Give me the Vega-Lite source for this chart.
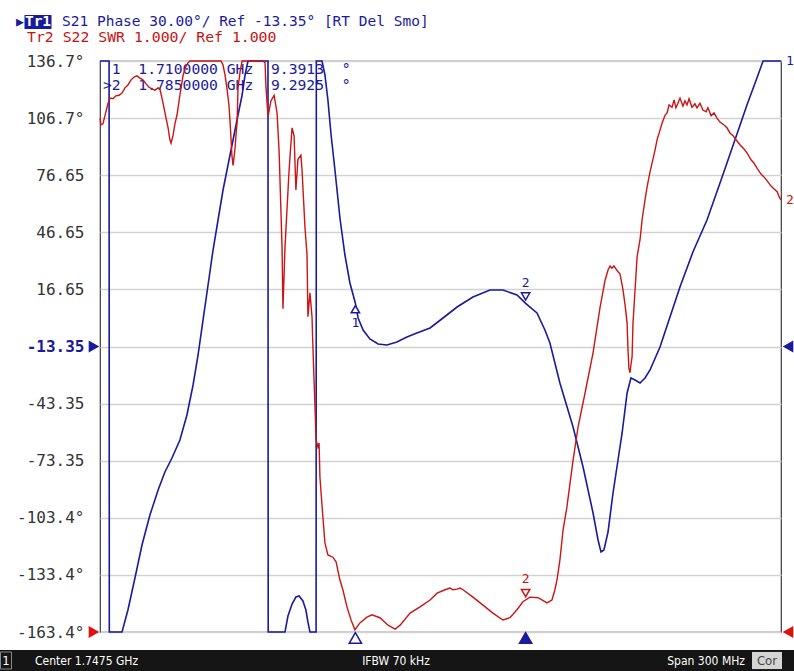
{
  "$schema": "https://vega.github.io/schema/vega-lite/v6.json",
  "width": 681,
  "height": 571,
  "autosize": {"type": "none"},
  "padding": {"left": 100, "top": 61, "right": 13, "bottom": 39},
  "background": "white",
  "config": {"view": {"stroke": "#3a3a3a", "strokeWidth": 1.2}, "font": "DejaVu Sans Mono"},
  "datasets": {
    "phase": [
      {"f":1597.5,"phase":168},{"f":1601.5,"phase":179.5},{"f":1601.6,"phase":-179.5},{"f":1604.1,"phase":-171},{"f":1607.2,"phase":-163.4},
      {"f":1609.8,"phase":-151.79},{"f":1612.9,"phase":-134.98},{"f":1616.0,"phase":-117.64},{"f":1619.5,"phase":-101.88},{"f":1623.1,"phase":-88.74},
      {"f":1626.1,"phase":-79.29},{"f":1629.2,"phase":-71.93},{"f":1632.7,"phase":-62.47},{"f":1635.8,"phase":-49.34},{"f":1638.5,"phase":-33.58},
      {"f":1640.7,"phase":-17.81},{"f":1642.9,"phase":0.58},{"f":1645.1,"phase":18.96},{"f":1647.3,"phase":37.35},{"f":1649.5,"phase":53.11},
      {"f":1651.7,"phase":68.87},{"f":1653.9,"phase":82.01},{"f":1656.1,"phase":95.14},{"f":1658.3,"phase":108.28},{"f":1660.1,"phase":118.79},
      {"f":1661.4,"phase":129.3},{"f":1662.7,"phase":136.65},{"f":1667.1,"phase":158},{"f":1671.5,"phase":179.5},{"f":1671.6,"phase":-179.5},
      {"f":1675.0,"phase":-172},{"f":1679.0,"phase":-163.4},{"f":1680.3,"phase":-154.94},{"f":1682.1,"phase":-148.64},{"f":1683.8,"phase":-144.96},
      {"f":1685.2,"phase":-144.43},{"f":1686.9,"phase":-147.06},{"f":1688.2,"phase":-151.79},{"f":1689.1,"phase":-158.09},{"f":1690.0,"phase":-163.4},
      {"f":1691.3,"phase":-172},{"f":1692.7,"phase":-179.5},{"f":1692.8,"phase":179.5},{"f":1694.0,"phase":160},{"f":1695.3,"phase":137},
      {"f":1696.6,"phase":129.3},{"f":1697.9,"phase":116.16},{"f":1699.3,"phase":97.77},{"f":1701.0,"phase":79.38},{"f":1703.2,"phase":54.16},
      {"f":1705.4,"phase":34.72},{"f":1707.6,"phase":20.01},{"f":1710.0,"phase":9.3913},{"f":1711.2,"phase":1.62},{"f":1713.4,"phase":-4.68},
      {"f":1716.4,"phase":-9.41},{"f":1720.0,"phase":-12.04},{"f":1723.9,"phase":-12.56},{"f":1728.3,"phase":-10.98},{"f":1732.7,"phase":-8.36},
      {"f":1737.1,"phase":-6.25},{"f":1742.9,"phase":-3.63},{"f":1748.6,"phase":1.62},{"f":1754.8,"phase":7.4},{"f":1761.8,"phase":12.66},
      {"f":1769.3,"phase":16.34},{"f":1775.0,"phase":16.34},{"f":1781.2,"phase":13.71},{"f":1785.0,"phase":9.2925},{"f":1790.0,"phase":4.25},
      {"f":1793.5,"phase":-4.68},{"f":1795.7,"phase":-11.51},{"f":1800.1,"phase":-32.52},{"f":1805.9,"phase":-55.64},{"f":1810.3,"phase":-76.66},
      {"f":1814.7,"phase":-100.83},{"f":1816.9,"phase":-115.02},{"f":1818.2,"phase":-121.32},{"f":1819.5,"phase":-120.27},{"f":1821.3,"phase":-110.81},
      {"f":1823.5,"phase":-90.32},{"f":1825.7,"phase":-72.98},{"f":1827.5,"phase":-58.79},{"f":1829.7,"phase":-37.78},{"f":1831.4,"phase":-29.9},
      {"f":1833.2,"phase":-30.95},{"f":1835.4,"phase":-32.52},{"f":1837.6,"phase":-29.9},{"f":1839.8,"phase":-25.69},{"f":1844.2,"phase":-13.61},
      {"f":1848.6,"phase":2.15},{"f":1853.0,"phase":17.91},{"f":1858.7,"phase":36.3},{"f":1864.9,"phase":53.11},{"f":1871.1,"phase":74.13},
      {"f":1877.2,"phase":95.14},{"f":1882.5,"phase":113.53},{"f":1886.9,"phase":127.72},{"f":1889.6,"phase":136.65},{"f":1893.5,"phase":142},
      {"f":1897.5,"phase":147}
    ],
    "swr": [
      {"f":1597.5,"swr":10.0},{"f":1597.9,"swr":9.88},{"f":1598.8,"swr":9.9},{"f":1600.1,"swr":10.11},{"f":1601.0,"swr":10.25},
      {"f":1601.9,"swr":10.35},{"f":1603.2,"swr":10.34},{"f":1604.5,"swr":10.39},{"f":1605.9,"swr":10.4},{"f":1607.2,"swr":10.44},
      {"f":1608.5,"swr":10.53},{"f":1609.8,"swr":10.58},{"f":1611.2,"swr":10.67},{"f":1612.5,"swr":10.72},{"f":1613.8,"swr":10.74},
      {"f":1615.1,"swr":10.7},{"f":1616.4,"swr":10.67},{"f":1617.8,"swr":10.6},{"f":1619.1,"swr":10.54},{"f":1620.4,"swr":10.51},
      {"f":1621.7,"swr":10.49},{"f":1623.1,"swr":10.53},{"f":1623.9,"swr":10.51},{"f":1624.8,"swr":10.35},{"f":1625.7,"swr":10.18},
      {"f":1626.6,"swr":10.0},{"f":1627.5,"swr":9.83},{"f":1628.3,"swr":9.62},{"f":1628.8,"swr":9.56},{"f":1629.7,"swr":9.7},
      {"f":1630.5,"swr":9.9},{"f":1631.4,"swr":10.05},{"f":1632.7,"swr":10.4},{"f":1634.1,"swr":10.75},{"f":1635.4,"swr":10.91},
      {"f":1636.3,"swr":10.97},{"f":1637.1,"swr":11.05},{"f":1639.4,"swr":11.6},{"f":1643.8,"swr":12.3},{"f":1648.2,"swr":11.8},
      {"f":1650.8,"swr":11.1},{"f":1651.7,"swr":10.93},{"f":1652.6,"swr":10.75},{"f":1653.4,"swr":10.53},{"f":1654.3,"swr":10.23},
      {"f":1654.8,"swr":9.93},{"f":1655.2,"swr":9.65},{"f":1655.6,"swr":9.35},{"f":1656.1,"swr":9.17},{"f":1656.5,"swr":9.3},
      {"f":1657.0,"swr":9.48},{"f":1657.4,"swr":9.7},{"f":1657.9,"swr":9.93},{"f":1658.3,"swr":10.53},{"f":1659.2,"swr":10.81},
      {"f":1660.1,"swr":11.0},{"f":1662.7,"swr":11.5},{"f":1666.2,"swr":12.0},{"f":1669.3,"swr":11.3},{"f":1670.2,"swr":10.97},
      {"f":1670.6,"swr":10.56},{"f":1671.5,"swr":10.02},{"f":1672.8,"swr":10.3},{"f":1674.2,"swr":10.4},{"f":1675.5,"swr":10.09},
      {"f":1676.4,"swr":9.42},{"f":1677.7,"swr":7.74},{"f":1678.1,"swr":6.66},{"f":1679.0,"swr":7.74},{"f":1680.8,"swr":9.09},
      {"f":1682.1,"swr":9.83},{"f":1683.0,"swr":9.69},{"f":1683.8,"swr":8.74},{"f":1684.7,"swr":9.28},{"f":1686.0,"swr":9.35},
      {"f":1686.5,"swr":9.09},{"f":1687.8,"swr":8.08},{"f":1688.7,"swr":7.61},{"f":1689.1,"swr":6.52},{"f":1690.0,"swr":6.94},
      {"f":1690.9,"swr":6.52},{"f":1691.3,"swr":5.99},{"f":1692.7,"swr":4.36},{"f":1693.5,"swr":4.24},{"f":1694.0,"swr":4.31},
      {"f":1694.4,"swr":3.7},{"f":1695.7,"swr":3.01},{"f":1696.6,"swr":2.56},{"f":1697.9,"swr":2.35},{"f":1700.1,"swr":2.31},
      {"f":1701.5,"swr":2.23},{"f":1703.2,"swr":1.91},{"f":1704.5,"swr":1.74},{"f":1706.3,"swr":1.44},{"f":1708.1,"swr":1.21},
      {"f":1709.8,"swr":1.04},{"f":1712.0,"swr":1.16},{"f":1715.1,"swr":1.26},{"f":1717.3,"swr":1.3},{"f":1720.8,"swr":1.25},
      {"f":1724.4,"swr":1.12},{"f":1727.5,"swr":1.05},{"f":1729.7,"swr":1.12},{"f":1734.1,"swr":1.33},{"f":1738.5,"swr":1.44},
      {"f":1742.9,"swr":1.56},{"f":1746.0,"swr":1.68},{"f":1749.5,"swr":1.74},{"f":1751.7,"swr":1.77},{"f":1753.0,"swr":1.74},
      {"f":1754.8,"swr":1.75},{"f":1756.1,"swr":1.77},{"f":1757.4,"swr":1.74},{"f":1761.8,"swr":1.61},{"f":1766.2,"swr":1.47},
      {"f":1770.6,"swr":1.33},{"f":1775.0,"swr":1.21},{"f":1778.1,"swr":1.25},{"f":1781.2,"swr":1.39},{"f":1783.8,"swr":1.53},
      {"f":1786.9,"swr":1.61},{"f":1790.5,"swr":1.6},{"f":1794.4,"swr":1.51},{"f":1796.6,"swr":1.56},{"f":1797.9,"swr":1.74},
      {"f":1798.8,"swr":1.91},{"f":1800.1,"swr":2.26},{"f":1801.5,"swr":2.79},{"f":1803.2,"swr":3.19},{"f":1805.9,"swr":4.01},
      {"f":1808.1,"swr":4.59},{"f":1811.2,"swr":5.19},{"f":1814.7,"swr":5.89},{"f":1817.8,"swr":6.69},{"f":1820.0,"swr":7.16},
      {"f":1821.3,"swr":7.34},{"f":1822.2,"swr":7.41},{"f":1823.0,"swr":7.37},{"f":1823.9,"swr":7.41},{"f":1824.8,"swr":7.36},
      {"f":1825.7,"swr":7.31},{"f":1826.6,"swr":7.27},{"f":1827.9,"swr":6.99},{"f":1828.8,"swr":6.73},{"f":1829.7,"swr":6.41},
      {"f":1830.1,"swr":5.94},{"f":1830.5,"swr":5.62},{"f":1831.0,"swr":5.54},{"f":1831.4,"swr":5.68},{"f":1831.9,"swr":5.82},
      {"f":1832.3,"swr":6.41},{"f":1833.2,"swr":6.99},{"f":1834.1,"swr":7.57},{"f":1835.4,"swr":7.87},{"f":1836.3,"swr":8.22},
      {"f":1837.6,"swr":8.57},{"f":1838.5,"swr":8.79},{"f":1839.8,"swr":9.06},{"f":1840.7,"swr":9.21},{"f":1842.0,"swr":9.44},
      {"f":1842.9,"swr":9.62},{"f":1844.2,"swr":9.79},{"f":1845.1,"swr":9.91},{"f":1846.4,"swr":10.05},{"f":1847.3,"swr":10.09},
      {"f":1848.2,"swr":10.23},{"f":1849.5,"swr":10.19},{"f":1850.4,"swr":10.32},{"f":1851.2,"swr":10.18},{"f":1852.1,"swr":10.26},
      {"f":1853.0,"swr":10.35},{"f":1854.3,"swr":10.21},{"f":1855.2,"swr":10.3},{"f":1856.1,"swr":10.23},{"f":1857.0,"swr":10.34},
      {"f":1858.3,"swr":10.19},{"f":1859.6,"swr":10.25},{"f":1860.5,"swr":10.18},{"f":1861.8,"swr":10.26},{"f":1863.1,"swr":10.14},
      {"f":1864.5,"swr":10.11},{"f":1865.3,"swr":10.18},{"f":1866.7,"swr":10.04},{"f":1868.0,"swr":10.09},{"f":1869.3,"swr":10.0},
      {"f":1870.6,"swr":9.93},{"f":1872.4,"swr":9.88},{"f":1873.7,"swr":9.83},{"f":1875.0,"swr":9.74},{"f":1876.4,"swr":9.69},
      {"f":1877.7,"swr":9.62},{"f":1879.5,"swr":9.53},{"f":1881.2,"swr":9.46},{"f":1882.5,"swr":9.39},{"f":1884.3,"swr":9.27},
      {"f":1885.6,"swr":9.21},{"f":1887.0,"swr":9.12},{"f":1888.7,"swr":9.02},{"f":1890.0,"swr":8.97},{"f":1891.4,"swr":8.9},
      {"f":1893.1,"swr":8.81},{"f":1894.5,"swr":8.76},{"f":1895.8,"swr":8.71},{"f":1896.7,"swr":8.62},{"f":1897.5,"swr":8.57}
    ],
    "markers": [
      {"m":"1","f":1710,"phase":9.3913,"swr":1.04},
      {"m":"2","f":1785,"phase":9.2925,"swr":1.56}
    ],
    "refs": [
      {"trace":"Tr1","ref":-13.35},
      {"trace":"Tr2","ref":1.0}
    ],
    "status": [
      {"k":"ch","t":"1"},
      {"k":"center","t":"Center 1.7475 GHz"},
      {"k":"ifbw","t":"IFBW 70 kHz"},
      {"k":"span","t":"Span 300 MHz"},
      {"k":"cor","t":"Cor"},
      {"k":"tr","t":"Tr1"},
      {"k":"arrow","t":"▶"},
      {"k":"h1","t":"S21 Phase 30.00°/ Ref -13.35° [RT Del Smo]"},
      {"k":"h2","t":"Tr2 S22 SWR 1.000/ Ref 1.000"}
    ]
  },
  "layer": [
    {
      "layer": [
        {
          "data": {"name": "phase"},
          "mark": {"type": "line", "color": "#1a1a9e", "strokeWidth": 1.6},
          "encoding": {
            "x": {"field": "f", "type": "quantitative",
              "scale": {"domain": [1597.5, 1897.5], "nice": false, "zero": false},
              "axis": {"values": [1597.5,1627.5,1657.5,1687.5,1717.5,1747.5,1777.5,1807.5,1837.5,1867.5,1897.5],
                "grid": true, "gridColor": "#d2d2d2", "gridWidth": 1.5, "labels": false, "ticks": false,
                "domain": true, "domainColor": "#111111", "domainWidth": 2, "title": null}},
            "y": {"field": "phase", "type": "quantitative",
              "scale": {"domain": [-163.35, 136.65], "nice": false, "zero": false, "clamp": true},
              "axis": {"values": [-163.35,-133.35,-103.35,-73.35,-43.35,-13.35,16.65,46.65,76.65,106.65,136.65],
                "labelExpr": "(datum.value < 0 ? '-' : '') + (abs(datum.value) > 99.9 ? format(abs(datum.value) + 0.001, '.1f') + '°' : format(abs(datum.value) + 0.0001, '.2f'))",
                "grid": true, "gridColor": "#d2d2d2", "gridWidth": 1.5, "ticks": false, "tickSize": 0, "domain": false,
                "labelPadding": 16, "labelFont": "DejaVu Sans Mono", "labelFontSize": 16,
                "labelColor": {"condition": {"test": "abs(datum.value + 13.35) < 0.01", "value": "#1a1a9e"}, "value": "#333333"},
                "labelFontWeight": {"condition": {"test": "abs(datum.value + 13.35) < 0.01", "value": "bold"}, "value": "normal"},
                "labelOverlap": false, "labelBound": false, "labelFlush": false, "title": null}}
          }
        },
        {
          "data": {"name": "phase"},
          "transform": [{"filter": "datum.f == 1897.5"}],
          "mark": {"type": "text", "text": "1", "align": "left", "dx": 5, "fontSize": 13, "color": "#1a1a9e", "font": "DejaVu Sans Mono"},
          "encoding": {"x": {"field": "f", "type": "quantitative"}, "y": {"field": "phase", "type": "quantitative"}}
        },
        {
          "data": {"name": "markers"},
          "transform": [{"filter": "datum.m == '1'"}],
          "mark": {"type": "point", "shape": "triangle-up", "size": 70, "filled": true, "fill": "white", "stroke": "#1a1a9e", "strokeWidth": 1.5, "opacity": 1, "yOffset": 6},
          "encoding": {"x": {"field": "f", "type": "quantitative"}, "y": {"field": "phase", "type": "quantitative"}}
        },
        {
          "data": {"name": "markers"},
          "transform": [{"filter": "datum.m == '1'"}],
          "mark": {"type": "text", "dy": 20, "fontSize": 13, "color": "#1a1a9e", "font": "DejaVu Sans Mono"},
          "encoding": {"x": {"field": "f", "type": "quantitative"}, "y": {"field": "phase", "type": "quantitative"}, "text": {"field": "m"}}
        },
        {
          "data": {"name": "markers"},
          "transform": [{"filter": "datum.m == '2'"}],
          "mark": {"type": "point", "shape": "triangle-down", "size": 70, "filled": true, "fill": "white", "stroke": "#1a1a9e", "strokeWidth": 1.5, "opacity": 1, "yOffset": -7},
          "encoding": {"x": {"field": "f", "type": "quantitative"}, "y": {"field": "phase", "type": "quantitative"}}
        },
        {
          "data": {"name": "markers"},
          "transform": [{"filter": "datum.m == '2'"}],
          "mark": {"type": "text", "dy": -20, "fontSize": 13, "color": "#1a1a9e", "font": "DejaVu Sans Mono"},
          "encoding": {"x": {"field": "f", "type": "quantitative"}, "y": {"field": "phase", "type": "quantitative"}, "text": {"field": "m"}}
        },
        {
          "data": {"name": "markers"},
          "transform": [
            {"filter": "datum.m == '1'"},
            {"calculate": "datum.m + '\u00a0\u00a0' + format(datum.f / 1000, '.7f') + '\u00a0GHz\u00a0\u00a0' + format(datum.phase, '.4f') + '\u00a0\u00a0°'", "as": "label"}
          ],
          "mark": {"type": "text", "align": "left", "baseline": "middle", "dx": 8.85, "fontSize": 14.7, "color": "#1a1a9e", "font": "DejaVu Sans Mono"},
          "encoding": {"x": {"datum": 1598.8}, "y": {"datum": 131.92}, "text": {"field": "label"}}
        },
        {
          "data": {"name": "markers"},
          "transform": [
            {"filter": "datum.m == '2'"},
            {"calculate": "'>' + datum.m + '\u00a0\u00a0' + format(datum.f / 1000, '.7f') + '\u00a0GHz\u00a0\u00a0' + format(datum.phase, '.4f') + '\u00a0\u00a0°'", "as": "label"}
          ],
          "mark": {"type": "text", "align": "left", "baseline": "middle", "fontSize": 14.7, "color": "#1a1a9e", "font": "DejaVu Sans Mono"},
          "encoding": {"x": {"datum": 1598.8}, "y": {"datum": 123.52}, "text": {"field": "label"}}
        },
        {
          "data": {"name": "markers"},
          "mark": {"type": "point", "shape": "triangle-up", "size": 150, "filled": true, "stroke": "#1a1a9e", "strokeWidth": 1.5, "opacity": 1, "yOffset": 6},
          "encoding": {
            "x": {"field": "f", "type": "quantitative"},
            "y": {"datum": -163.35},
            "fill": {"condition": {"test": "datum.m == '2'", "value": "#1a1a9e"}, "value": "white"}
          }
        },
        {
          "data": {"name": "refs"},
          "transform": [{"filter": "datum.trace == 'Tr1'"}],
          "mark": {"type": "point", "shape": "triangle-right", "size": 150, "filled": true, "color": "#1a1a9e", "opacity": 1, "xOffset": -6},
          "encoding": {"x": {"datum": 1597.5}, "y": {"field": "ref", "type": "quantitative"}}
        },
        {
          "data": {"name": "refs"},
          "transform": [{"filter": "datum.trace == 'Tr1'"}],
          "mark": {"type": "point", "shape": "triangle-left", "size": 150, "filled": true, "color": "#1a1a9e", "opacity": 1, "xOffset": 7},
          "encoding": {"x": {"datum": 1897.5}, "y": {"field": "ref", "type": "quantitative"}}
        },
        {
          "data": {"name": "status"},
          "transform": [{"filter": "datum.k == 'center'"}],
          "mark": {"type": "rect", "color": "#151515", "xOffset": -100, "x2Offset": 13, "yOffset": 18, "y2Offset": 39},
          "encoding": {"x": {"datum": 1597.5}, "x2": {"datum": 1897.5}, "y": {"datum": -163.35}, "y2": {"datum": -163.35}}
        },
        {
          "data": {"name": "status"},
          "transform": [{"filter": "datum.k == 'ch'"}],
          "mark": {"type": "point", "shape": "M-1,-1.55H1V1.55H-1Z", "size": 121, "filled": false, "stroke": "#8a8a8a", "strokeWidth": 1, "opacity": 1, "xOffset": -94, "yOffset": 28.5},
          "encoding": {"x": {"datum": 1597.5}, "y": {"datum": -163.35}}
        },
        {
          "data": {"name": "status"},
          "transform": [{"filter": "datum.k == 'cor'"}],
          "mark": {"type": "point", "shape": "M-1,-0.57H1V0.57H-1Z", "size": 900, "filled": true, "color": "#d4d4d4", "opacity": 1, "xOffset": -14, "yOffset": 28.5},
          "encoding": {"x": {"datum": 1897.5}, "y": {"datum": -163.35}}
        },
        {
          "data": {"name": "status"},
          "transform": [{"filter": "datum.k == 'cor'"}],
          "mark": {"type": "text", "align": "center", "baseline": "middle", "dx": -14, "dy": 28.5, "fontSize": 13, "color": "#444444", "font": "Liberation Sans Narrow, DejaVu Sans Condensed, sans-serif"},
          "encoding": {"x": {"datum": 1897.5}, "y": {"datum": -163.35}, "text": {"field": "t"}}
        },
        {
          "data": {"name": "status"},
          "transform": [{"filter": "datum.k == 'ch'"}],
          "mark": {"type": "text", "align": "center", "baseline": "middle", "dx": -94, "dy": 28.5, "fontSize": 13, "color": "white", "font": "Liberation Sans Narrow, DejaVu Sans Condensed, sans-serif"},
          "encoding": {"x": {"datum": 1597.5}, "y": {"datum": -163.35}, "text": {"field": "t"}}
        },
        {
          "data": {"name": "status"},
          "transform": [{"filter": "datum.k == 'center'"}],
          "mark": {"type": "text", "align": "left", "baseline": "middle", "dx": -65, "dy": 28.5, "fontSize": 12, "color": "white", "font": "Liberation Sans Narrow, DejaVu Sans Condensed, sans-serif"},
          "encoding": {"x": {"datum": 1597.5}, "y": {"datum": -163.35}, "text": {"field": "t"}}
        },
        {
          "data": {"name": "status"},
          "transform": [{"filter": "datum.k == 'ifbw'"}],
          "mark": {"type": "text", "align": "center", "baseline": "middle", "dx": -44.5, "dy": 28.5, "fontSize": 12, "color": "white", "font": "Liberation Sans Narrow, DejaVu Sans Condensed, sans-serif"},
          "encoding": {"x": {"datum": 1747.5}, "y": {"datum": -163.35}, "text": {"field": "t"}}
        },
        {
          "data": {"name": "status"},
          "transform": [{"filter": "datum.k == 'span'"}],
          "mark": {"type": "text", "align": "right", "baseline": "middle", "dx": -36, "dy": 28.5, "fontSize": 12, "color": "white", "font": "Liberation Sans Narrow, DejaVu Sans Condensed, sans-serif"},
          "encoding": {"x": {"datum": 1897.5}, "y": {"datum": -163.35}, "text": {"field": "t"}}
        },
        {
          "data": {"name": "status"},
          "transform": [{"filter": "datum.k == 'arrow'"}],
          "mark": {"type": "text", "align": "left", "baseline": "middle", "dx": -84, "dy": -39, "fontSize": 13, "color": "#1a1a9e", "font": "DejaVu Sans Mono"},
          "encoding": {"x": {"datum": 1597.5}, "y": {"datum": 136.65}, "text": {"field": "t"}}
        },
        {
          "data": {"name": "status"},
          "transform": [{"filter": "datum.k == 'h1'"}],
          "mark": {"type": "text", "align": "left", "baseline": "middle", "dx": -38, "dy": -39, "fontSize": 14.5, "color": "#1a1a9e", "font": "DejaVu Sans Mono"},
          "encoding": {"x": {"datum": 1597.5}, "y": {"datum": 136.65}, "text": {"field": "t"}}
        },
        {
          "data": {"name": "status"},
          "transform": [{"filter": "datum.k == 'h2'"}],
          "mark": {"type": "text", "align": "left", "baseline": "middle", "dx": -73, "dy": -23, "fontSize": 14.8, "color": "#c81414", "font": "DejaVu Sans Mono"},
          "encoding": {"x": {"datum": 1597.5}, "y": {"datum": 136.65}, "text": {"field": "t"}}
        },
        {
          "data": {"name": "status"},
          "transform": [{"filter": "datum.k == 'tr'"}],
          "mark": {"type": "point", "shape": "M-1,-0.52H1V0.52H-1Z", "size": 729, "filled": true, "color": "#1a1a9e", "opacity": 1, "xOffset": -62, "yOffset": -39},
          "encoding": {"x": {"datum": 1597.5}, "y": {"datum": 136.65}}
        },
        {
          "data": {"name": "status"},
          "transform": [{"filter": "datum.k == 'tr'"}],
          "mark": {"type": "text", "align": "center", "baseline": "middle", "dx": -62, "dy": -39, "fontSize": 14.5, "fontWeight": "bold", "color": "white", "font": "DejaVu Sans Mono"},
          "encoding": {"x": {"datum": 1597.5}, "y": {"datum": 136.65}, "text": {"field": "t"}}
        }
      ]
    },
    {
      "layer": [
        {
          "data": {"name": "swr"},
          "mark": {"type": "line", "color": "#cc1414", "strokeWidth": 1.4},
          "encoding": {
            "x": {"field": "f", "type": "quantitative", "axis": null},
            "y": {"field": "swr", "type": "quantitative", "scale": {"domain": [1, 11], "nice": false, "zero": false, "clamp": true}, "axis": null}
          }
        },
        {
          "data": {"name": "swr"},
          "transform": [{"filter": "datum.f == 1897.5"}],
          "mark": {"type": "text", "text": "2", "align": "left", "dx": 5, "fontSize": 13, "color": "#cc1414", "font": "DejaVu Sans Mono"},
          "encoding": {"x": {"field": "f", "type": "quantitative", "axis": null}, "y": {"field": "swr", "type": "quantitative", "axis": null}}
        },
        {
          "data": {"name": "markers"},
          "transform": [{"filter": "datum.m == '2'"}],
          "mark": {"type": "point", "shape": "triangle-down", "size": 70, "filled": true, "fill": "white", "stroke": "#cc1414", "strokeWidth": 1.5, "opacity": 1, "yOffset": -7},
          "encoding": {"x": {"field": "f", "type": "quantitative", "axis": null}, "y": {"field": "swr", "type": "quantitative", "axis": null}}
        },
        {
          "data": {"name": "markers"},
          "transform": [{"filter": "datum.m == '2'"}],
          "mark": {"type": "text", "dy": -21, "fontSize": 13, "color": "#cc1414", "font": "DejaVu Sans Mono"},
          "encoding": {"x": {"field": "f", "type": "quantitative", "axis": null}, "y": {"field": "swr", "type": "quantitative", "axis": null}, "text": {"field": "m"}}
        },
        {
          "data": {"name": "refs"},
          "transform": [{"filter": "datum.trace == 'Tr2'"}],
          "mark": {"type": "point", "shape": "triangle-right", "size": 150, "filled": true, "color": "#e01010", "opacity": 1, "xOffset": -6},
          "encoding": {"x": {"datum": 1597.5, "axis": null}, "y": {"field": "ref", "type": "quantitative", "axis": null}}
        },
        {
          "data": {"name": "refs"},
          "transform": [{"filter": "datum.trace == 'Tr2'"}],
          "mark": {"type": "point", "shape": "triangle-left", "size": 150, "filled": true, "color": "#e01010", "opacity": 1, "xOffset": 7},
          "encoding": {"x": {"datum": 1897.5, "axis": null}, "y": {"field": "ref", "type": "quantitative", "axis": null}}
        }
      ]
    }
  ],
  "resolve": {"scale": {"y": "independent"}}
}
